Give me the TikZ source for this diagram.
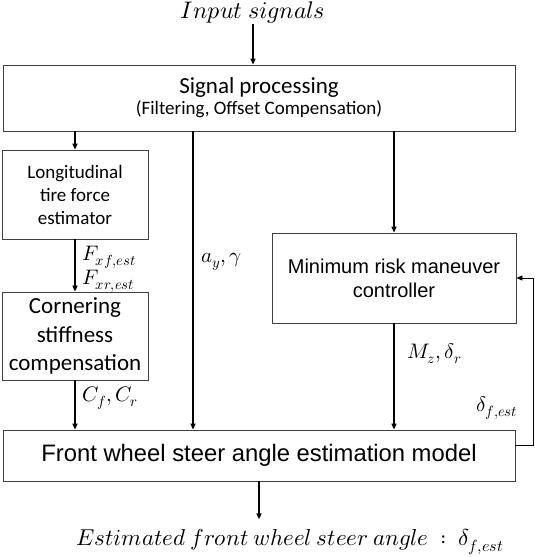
\documentclass[tikz,border=0pt]{standalone}
\usepackage{fontspec}
\usepackage{unicode-math}
\setmainfont{Carlito}
\setmathfont{Latin Modern Math}
\newfontfamily\arialfont{Liberation Sans}
\usetikzlibrary{arrows.meta,positioning}

\begin{document}
\begin{tikzpicture}
  [x=1pt,y=-1pt,
   box/.style={draw=black!75,line width=0.8pt,rectangle,inner sep=0pt,align=center},
   flow/.style={-{Triangle[length=6pt,width=5pt]},line width=1.4pt},
   lbl/.style={anchor=west,inner sep=0pt,font=\fontsize{21}{25}\selectfont}]
  \useasboundingbox (0,0) rectangle (535,557);

  \node[inner sep=0pt,font=\fontsize{24}{28}\selectfont] (nin) at (253,13) {$Input\ signals$};
  \node[box,minimum width=512,minimum height=66] (ns) at (259,98)
    {{\fontsize{23}{27}\selectfont Signal processing}\\[2pt]
     {\fontsize{19}{22}\selectfont (Filtering, Offset Compensation)}};
  \node[box,minimum width=146,minimum height=89,font=\fontsize{19}{23}\selectfont] (nl) at (75,194.5)
    {Longitudinal\\tire force\\estimator};
  \node[box,minimum width=146,minimum height=88,font=\fontsize{23}{28.5}\selectfont] (nc) at (75,336)
    {Cornering\\stiffness\\compensation};
  \node[box,minimum width=244,minimum height=90,font=\arialfont\fontsize{20}{24}\selectfont] (nm) at (394,278)
    {Minimum risk maneuver\\controller};
  \node[box,minimum width=512,minimum height=51,font=\arialfont\fontsize{23.8}{28}\selectfont] (nf) at (259,455.5)
    {Front wheel steer angle estimation model};
  \node[inner sep=0pt,font=\fontsize{23}{28}\selectfont] (nout) at (290,542)
    {$Estimated\ front\ wheel\ steer\ angle\ :\ \delta_{f,est}$};

  \coordinate (nay) at (193,0);

  \draw[flow] (nin) -- (ns.north -| nin);
  \draw[flow] (ns.south -| nl.north) -- (nl.north);
  \draw[flow] (ns.south -| nay) -- (nf.north -| nay);
  \draw[flow] (ns.south -| nm.north) -- (nm.north);
  \draw[flow] (nl) -- (nc);
  \draw[flow] (nc) -- (nf.north -| nc.south);
  \draw[flow] (nm) -- (nf.north -| nm.south);
  \draw[flow] (nf.south) -- ++(0,38);
  \draw[-{Triangle[length=6pt,width=5pt]},line width=0.8pt]
    ([yshift=10pt]nf.east) -- ++(18,0) |- (nm.east);

  \node[lbl] (nfx) at (82,257) {$F_{xf,est}$};
  \node[lbl] (nfr) at (82,281) {$F_{xr,est}$};
  \node[lbl] (ncf) at (82,398) {$C_f,C_r$};
  \node[lbl] (nayl) at (201,262) {$a_y,\gamma$};
  \node[lbl] (nmz) at (407,354) {$M_z,\delta_r$};
  \node[lbl] (ndf) at (476,408) {$\delta_{f,est}$};
\end{tikzpicture}
\end{document}
